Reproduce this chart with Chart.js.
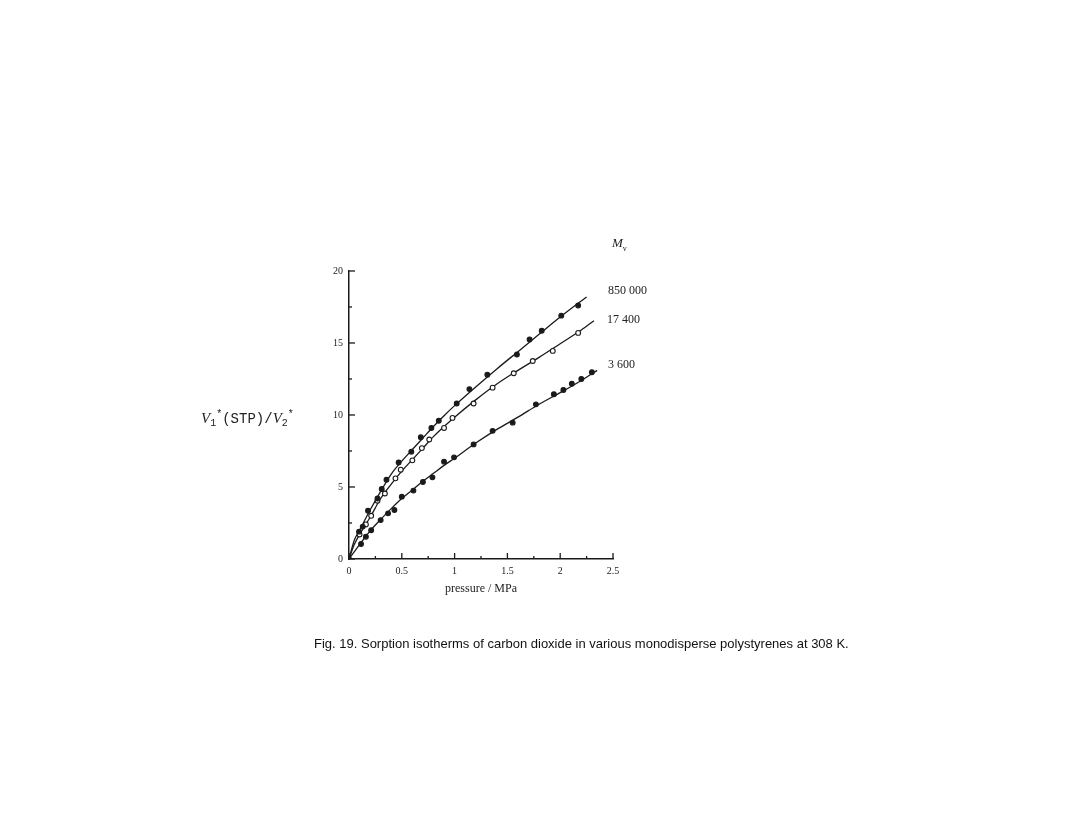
<!DOCTYPE html>
<html>
<head>
<meta charset="utf-8">
<script src="https://cdn.jsdelivr.net/npm/chart.js@4"></script>
<style>
  html, body { margin:0; padding:0; background:#fff; }
  #wrap { position:relative; width:1075px; height:839px; overflow:hidden; }
  canvas { position:absolute; left:0; top:0; }
  .lbl { position:absolute; font-family:"Liberation Serif", serif; color:#222; white-space:nowrap; line-height:1; }
  #ytitle { position:absolute; left:201px; top:409px; font-family:"Liberation Mono", monospace; font-size:14px; color:#222; white-space:nowrap; }
  #ytitle i { font-family:"Liberation Serif", serif; font-size:15px; }
  #ytitle sub, #ytitle sup { font-size:10px; }
  #caption { position:absolute; left:314px; top:636px; font-family:"Liberation Sans", Arial, sans-serif; font-size:13px; color:#111; white-space:nowrap; }
</style>
</head>
<body>
<div id="wrap">
<canvas id="c" width="1075" height="839"></canvas>
<div id="ytitle"><i>V</i><sub>1</sub><sup>*</sup>(STP)/<i>V</i><sub>2</sub><sup>*</sup></div>
<div class="lbl" style="left:612px;top:236px;font-size:13px;"><i>M</i><sub style="font-size:8px;">v</sub></div>
<div class="lbl" id="l0" style="left:608px;top:284px;font-size:12px;">850 000</div>
<div class="lbl" id="l1" style="left:607px;top:313px;font-size:12px;">17 400</div>
<div class="lbl" id="l2" style="left:608px;top:358px;font-size:12px;">3 600</div>
<div id="caption">Fig. 19. Sorption isotherms of carbon dioxide in various monodisperse polystyrenes at 308 K.</div>
</div>
<script>
// ---- data ----
const seriesNames = ["850 000", "17 400", "3 600"];

// measured points
const p850x = [0, 0.095, 0.13, 0.18, 0.27, 0.31, 0.355, 0.47, 0.59, 0.68, 0.78, 0.85, 1.02, 1.14, 1.31, 1.59, 1.71, 1.825, 2.01, 2.17];
const p850y = [0, 1.9, 2.25, 3.35, 4.2, 4.86, 5.5, 6.7, 7.45, 8.45, 9.1, 9.6, 10.8, 11.8, 12.8, 14.2, 15.25, 15.85, 16.9, 17.6];

const p174x = [0.1, 0.16, 0.21, 0.27, 0.34, 0.44, 0.49, 0.60, 0.69, 0.76, 0.90, 0.98, 1.18, 1.36, 1.56, 1.74, 1.93, 2.17];
const p174y = [1.7, 2.4, 3.0, 4.05, 4.55, 5.6, 6.2, 6.85, 7.7, 8.3, 9.1, 9.8, 10.8, 11.9, 12.9, 13.75, 14.45, 15.7];

const p36x = [0.114, 0.16, 0.21, 0.30, 0.37, 0.43, 0.50, 0.61, 0.70, 0.79, 0.90, 0.995, 1.18, 1.36, 1.55, 1.77, 1.94, 2.03, 2.11, 2.2, 2.30];
const p36y = [1.04, 1.55, 2.0, 2.7, 3.17, 3.4, 4.33, 4.75, 5.35, 5.67, 6.76, 7.06, 7.96, 8.9, 9.47, 10.74, 11.44, 11.74, 12.17, 12.5, 12.97];

// fitted curves
const c850x = [0, 0.05, 0.1, 0.2, 0.3, 0.4, 0.5, 0.6, 0.7, 0.8, 0.9, 1.0, 1.2, 1.4, 1.6, 1.8, 2.0, 2.25];
const c850y = [0, 1.3, 2.0, 3.4, 4.7, 5.9, 6.8, 7.6, 8.4, 9.2, 9.95, 10.65, 11.95, 13.2, 14.4, 15.6, 16.8, 18.2];

const c174x = [0, 0.05, 0.1, 0.2, 0.3, 0.4, 0.5, 0.6, 0.7, 0.8, 0.9, 1.0, 1.2, 1.4, 1.6, 1.8, 2.0, 2.2, 2.32];
const c174y = [0, 1.0, 1.7, 2.9, 4.2, 5.2, 6.1, 6.9, 7.7, 8.5, 9.2, 9.85, 11.05, 12.15, 13.1, 14.0, 14.95, 15.9, 16.55];

const c36x = [0, 0.1, 0.2, 0.3, 0.4, 0.5, 0.6, 0.7, 0.8, 0.9, 1.0, 1.2, 1.4, 1.6, 1.8, 2.0, 2.2, 2.35];
const c36y = [0, 1.0, 1.95, 2.75, 3.5, 4.2, 4.8, 5.4, 5.95, 6.5, 7.0, 8.05, 9.0, 9.85, 10.75, 11.55, 12.4, 13.1];

// axis ticks
const xMajor = [0, 0.5, 1, 1.5, 2, 2.5];
const xMajorLabels = ["0", "0.5", "1", "1.5", "2", "2.5"];
const xMinor = [0.25, 0.75, 1.25, 1.75, 2.25];
const yMajor = [0, 5, 10, 15, 20];
const yMajorLabels = ["0", "5", "10", "15", "20"];
const yMinor = [2.5, 7.5, 12.5, 17.5];

const zip = (xs, ys) => xs.map((x, i) => ({ x: x, y: ys[i] }));
const ink = "#1a1a1a";

const curveDS = (xs, ys, name) => ({
  label: name + " fit", data: zip(xs, ys), showLine: true, borderColor: ink, borderWidth: 1.3,
  pointRadius: 0, cubicInterpolationMode: "monotone", fill: false, order: 2
});
const pointDS = (xs, ys, name, open) => ({
  label: name, data: zip(xs, ys), showLine: false, pointRadius: 2.4,
  pointBackgroundColor: open ? "#fff" : ink, pointBorderColor: ink, pointBorderWidth: 1.1, order: 1
});

const tickPlugin = {
  id: "inwardTicks",
  afterDraw(chart) {
    const ctx = chart.ctx, xs = chart.scales.x, ys = chart.scales.y, a = chart.chartArea;
    ctx.save();
    ctx.strokeStyle = ink; ctx.lineWidth = 1.3;
    const xt = (v, len) => { const p = xs.getPixelForValue(v); ctx.beginPath(); ctx.moveTo(p, a.bottom); ctx.lineTo(p, a.bottom - len); ctx.stroke(); };
    const yt = (v, len) => { const p = ys.getPixelForValue(v); ctx.beginPath(); ctx.moveTo(a.left, p); ctx.lineTo(a.left + len, p); ctx.stroke(); };
    xMajor.forEach(v => xt(v, 6)); xMinor.forEach(v => xt(v, 3));
    yMajor.forEach(v => yt(v, 6)); yMinor.forEach(v => yt(v, 3));
    ctx.restore();
  }
};

new Chart(document.getElementById("c"), {
  type: "scatter",
  data: {
    datasets: [
      curveDS(c850x, c850y, seriesNames[0]),
      curveDS(c174x, c174y, seriesNames[1]),
      curveDS(c36x, c36y, seriesNames[2]),
      pointDS(p850x, p850y, seriesNames[0], false),
      pointDS(p174x, p174y, seriesNames[1], true),
      pointDS(p36x, p36y, seriesNames[2], false)
    ]
  },
  options: {
    responsive: false, animation: false, devicePixelRatio: 1,
    layout: { padding: { left: 319, right: 462, top: 271, bottom: 240 } },
    plugins: { legend: { display: false }, tooltip: { enabled: false } },
    scales: {
      x: {
        type: "linear", min: 0, max: 2.5,
        afterBuildTicks: s => { s.ticks = xMajor.map(v => ({ value: v })); },
        afterFit: s => { s.height = 40; },
        grid: { display: false, drawTicks: false },
        border: { display: true, color: ink, width: 1.5 },
        ticks: {
          padding: 6, color: "#222", maxRotation: 0, autoSkip: false,
          font: { family: "Liberation Serif", size: 10 },
          callback: (v) => { const i = xMajor.indexOf(v); return i >= 0 ? xMajorLabels[i] : ""; }
        },
        title: { display: true, text: "pressure / MPa", color: "#222", padding: { top: 2, bottom: 3 },
                 font: { family: "Liberation Serif", size: 12 } }
      },
      y: {
        type: "linear", min: 0, max: 20,
        afterBuildTicks: s => { s.ticks = yMajor.map(v => ({ value: v })); },
        afterFit: s => { s.width = 30; },
        grid: { display: false, drawTicks: false },
        border: { display: true, color: ink, width: 1.5 },
        ticks: {
          padding: 6, color: "#222", autoSkip: false,
          font: { family: "Liberation Serif", size: 10 },
          callback: (v) => { const i = yMajor.indexOf(v); return i >= 0 ? yMajorLabels[i] : ""; }
        }
      }
    }
  },
  plugins: [tickPlugin]
});
</script>
</body>
</html>
